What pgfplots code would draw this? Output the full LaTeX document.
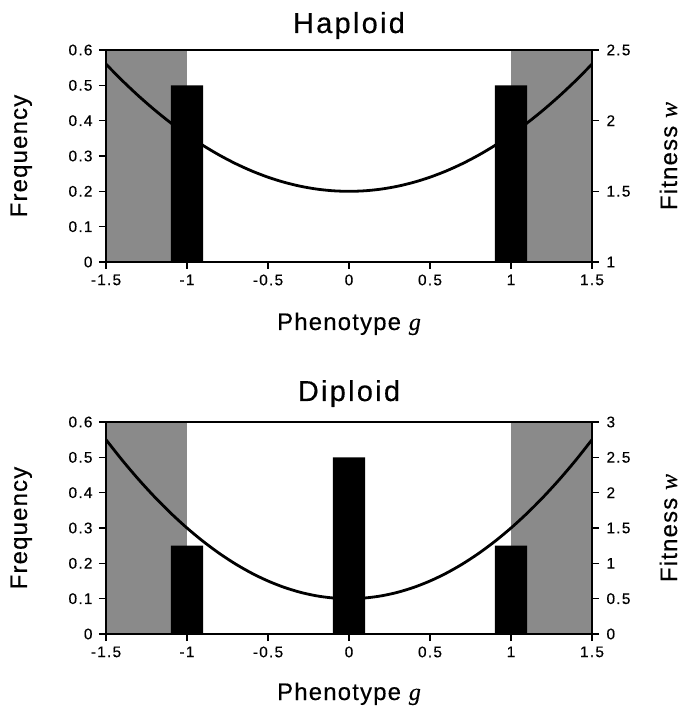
\documentclass[border=0pt]{standalone}
\usepackage{fontspec}
\setmainfont{Liberation Sans}
\newfontfamily\labfont[LetterSpace=5, FakeBold=0.4]{Liberation Sans}
\newfontfamily\titfont[LetterSpace=8, FakeBold=0.4]{Liberation Sans}
\newfontfamily\tickfont[LetterSpace=8, FakeBold=0.3]{Liberation Sans}
\newfontfamily\serfont[FakeBold=0.4]{Liberation Serif}
\usepackage{pgfplots}
\usepackage{pgfplotstable}
\pgfplotsset{compat=1.18}
\definecolor{shade}{gray}{0.54}

\pgfplotstableread{
g w
-1.5 2.400
-1.4 2.284
-1.3 2.176
-1.2 2.076
-1.1 1.984
-1.0 1.900
-0.9 1.824
-0.8 1.756
-0.7 1.696
-0.6 1.644
-0.5 1.600
-0.4 1.564
-0.3 1.536
-0.2 1.516
-0.1 1.504
0.0 1.500
0.1 1.504
0.2 1.516
0.3 1.536
0.4 1.564
0.5 1.600
0.6 1.644
0.7 1.696
0.8 1.756
0.9 1.824
1.0 1.900
1.1 1.984
1.2 2.076
1.3 2.176
1.4 2.284
1.5 2.400
}\haploidfit

\pgfplotstableread{
g w
-1.5 2.75
-1.4 2.46
-1.3 2.19
-1.2 1.94
-1.1 1.71
-1.0 1.50
-0.9 1.31
-0.8 1.14
-0.7 0.99
-0.6 0.86
-0.5 0.75
-0.4 0.66
-0.3 0.59
-0.2 0.54
-0.1 0.51
0.0 0.50
0.1 0.51
0.2 0.54
0.3 0.59
0.4 0.66
0.5 0.75
0.6 0.86
0.7 0.99
0.8 1.14
0.9 1.31
1.0 1.50
1.1 1.71
1.2 1.94
1.3 2.19
1.4 2.46
1.5 2.75
}\diploidfit

\pgfplotsset{
  base/.style={scale only axis, width=486bp, height=212bp,
    xmin=-1.5, xmax=1.5, anchor=south west},
  framed/.style={base, ymin=0, ymax=0.6,
    axis line style={line width=1.8bp},
    every tick/.style={line width=1.6bp, black},
    major tick length=7bp, tick align=outside,
    xtick={-1.5,-1,-0.5,0,0.5,1,1.5},
    xticklabels={-1.5,-1,-0.5,0,0.5,1,1.5},
    ytick={0,0.1,0.2,0.3,0.4,0.5,0.6},
    yticklabels={0,0.1,0.2,0.3,0.4,0.5,0.6},
    xtick pos=bottom, ytick pos=left,
    tick label style={font=\tickfont\fontsize{15.5}{17}\selectfont},
    xticklabel style={yshift=-2bp},
    yticklabel style={xshift=-3bp},
    minor tick num=0},
  rightax/.style={base, axis x line=none, axis y line*=right,
    axis line style={line width=1.8bp},
    every tick/.style={line width=1.6bp, black},
    major tick length=7bp, tick align=outside,
    tick label style={font=\tickfont\fontsize{15.5}{17}\selectfont},
    yticklabel style={xshift=4bp}}
}
\tikzset{
  labs/.style={font=\labfont\fontsize{24}{28}\selectfont, inner sep=0pt},
  tits/.style={font=\titfont\fontsize{29}{33}\selectfont, inner sep=0pt}
}

\begin{document}
\begin{tikzpicture}
% ================= Haploid (top) =================
\begin{axis}[base, at={(0,372bp)}, ymin=0, ymax=0.6, hide axis]
  \addplot[fill=shade, draw=none] coordinates {(-1.5,0.6) (-1.0,0.6)} \closedcycle;
  \addplot[fill=shade, draw=none] coordinates {(1.0,0.6) (1.5,0.6)} \closedcycle;
\end{axis}
\begin{axis}[rightax, at={(0,372bp)}, ymin=1, ymax=2.5,
    ytick={1,1.5,2,2.5}, yticklabels={1,1.5,2,2.5}]
  \addplot[black, line width=2.8bp, smooth] table[x=g, y=w] {\haploidfit};
\end{axis}
\begin{axis}[framed, at={(0,372bp)}]
  \addplot[ybar, bar width=0.2, fill=black, draw=none] coordinates {(-1,0.5) (1,0.5)};
\end{axis}

% ================= Diploid (bottom) =================
\begin{axis}[base, at={(0,0)}, ymin=0, ymax=0.6, hide axis]
  \addplot[fill=shade, draw=none] coordinates {(-1.5,0.6) (-1.0,0.6)} \closedcycle;
  \addplot[fill=shade, draw=none] coordinates {(1.0,0.6) (1.5,0.6)} \closedcycle;
\end{axis}
\begin{axis}[rightax, at={(0,0)}, ymin=0, ymax=3,
    ytick={0,0.5,1,1.5,2,2.5,3}, yticklabels={0,0.5,1,1.5,2,2.5,3}]
  \addplot[black, line width=2.8bp, smooth] table[x=g, y=w] {\diploidfit};
\end{axis}
\begin{axis}[framed, at={(0,0)}]
  \addplot[ybar, bar width=0.2, fill=black, draw=none] coordinates {(-1,0.25) (0,0.5) (1,0.25)};
\end{axis}

% ================= Texts =================
\node[tits, anchor=base] at (243bp,601bp) {Haploid};
\node[tits, anchor=base] at (243bp,233bp) {Diploid};
\node[labs, anchor=base] at (243bp,304bp) {Phenotype {\serfont\itshape g}};
\node[labs, anchor=base] at (243bp,-66bp) {Phenotype {\serfont\itshape g}};
\node[labs, anchor=base, rotate=90] at (-79bp,478bp) {Frequency};
\node[labs, anchor=base, rotate=90] at (-79bp,106bp) {Frequency};
\node[labs, anchor=base, rotate=90] at (571bp,478bp) {Fitness {\serfont\itshape w}};
\node[labs, anchor=base, rotate=90] at (571bp,106bp) {Fitness {\serfont\itshape w}};

\pgfresetboundingbox
\path (-106bp,-79bp) rectangle (575bp,634bp);
\end{tikzpicture}
\end{document}
